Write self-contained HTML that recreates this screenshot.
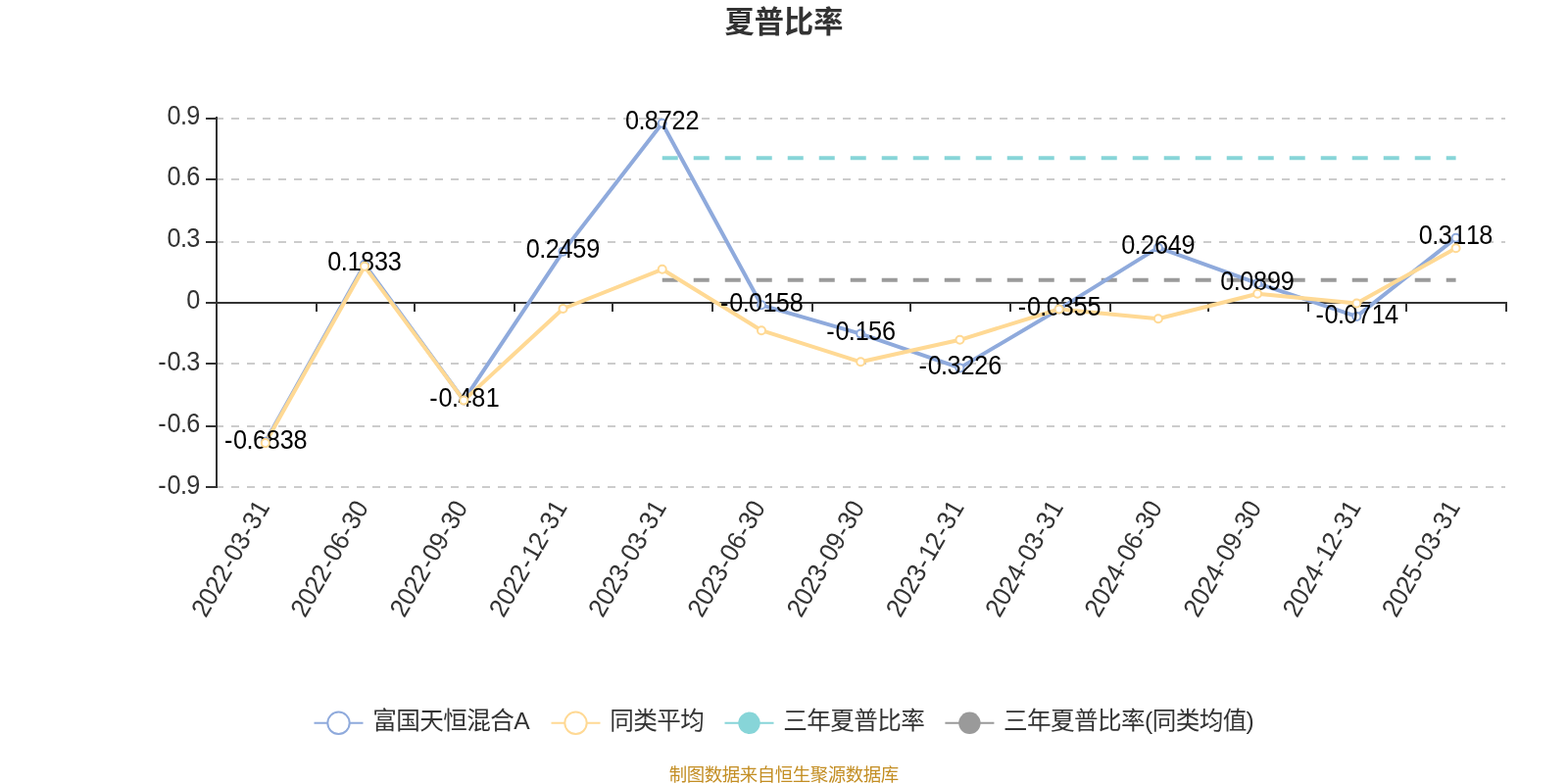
<!DOCTYPE html>
<html lang="zh-CN"><head><meta charset="utf-8"><title>夏普比率</title>
<style>
html,body{margin:0;padding:0;background:#fff;}
body{width:1600px;height:800px;overflow:hidden;}
svg{display:block;}
text{font-family:"Liberation Sans", "Noto Sans CJK SC", sans-serif;}
.ax{font-size:26.7px;fill:#333;}
.lb{font-size:26.7px;fill:#000;}
.lg{font-size:24.6px;letter-spacing:-0.6px;fill:#333;}
</style></head><body>
<svg width="1600" height="800" viewBox="0 0 1600 800">
<rect width="1600" height="800" fill="#fff"/>
<text x="800" y="33.3" text-anchor="middle" font-size="30.2" font-weight="bold" fill="#333">夏普比率</text>
<g stroke="#ccc" stroke-width="2" stroke-dasharray="8 8" fill="none">
<line x1="220" y1="121" x2="1536" y2="121"/>
<line x1="220" y1="183" x2="1536" y2="183"/>
<line x1="220" y1="247" x2="1536" y2="247"/>
<line x1="220" y1="371" x2="1536" y2="371"/>
<line x1="220" y1="435" x2="1536" y2="435"/>
<line x1="220" y1="497" x2="1536" y2="497"/>
</g>
<g stroke="#333" stroke-width="2" fill="none">
<line x1="221" y1="119" x2="221" y2="498"/>
<line x1="210" y1="121" x2="220" y2="121"/>
<line x1="210" y1="183" x2="220" y2="183"/>
<line x1="210" y1="247" x2="220" y2="247"/>
<line x1="210" y1="309" x2="220" y2="309"/>
<line x1="210" y1="371" x2="220" y2="371"/>
<line x1="210" y1="435" x2="220" y2="435"/>
<line x1="210" y1="497" x2="220" y2="497"/>
<line x1="220" y1="309" x2="1538" y2="309"/>
<line x1="323" y1="308" x2="323" y2="318"/>
<line x1="423" y1="308" x2="423" y2="318"/>
<line x1="525" y1="308" x2="525" y2="318"/>
<line x1="625" y1="308" x2="625" y2="318"/>
<line x1="727" y1="308" x2="727" y2="318"/>
<line x1="829" y1="308" x2="829" y2="318"/>
<line x1="929" y1="308" x2="929" y2="318"/>
<line x1="1031" y1="308" x2="1031" y2="318"/>
<line x1="1133" y1="308" x2="1133" y2="318"/>
<line x1="1233" y1="308" x2="1233" y2="318"/>
<line x1="1335" y1="308" x2="1335" y2="318"/>
<line x1="1435" y1="308" x2="1435" y2="318"/>
<line x1="1537" y1="308" x2="1537" y2="318"/>
</g>
<g class="ax">
<text transform="translate(204.30 126.50) scale(0.945 1)" x="-35.79 -21.56 -14.76" y="0">0.9</text>
<text transform="translate(204.30 189.33) scale(0.945 1)" x="-35.79 -21.56 -14.76" y="0">0.6</text>
<text transform="translate(204.30 252.17) scale(0.945 1)" x="-35.79 -21.56 -14.76" y="0">0.3</text>
<text transform="translate(204.30 315.00) scale(0.945 1)" x="-14.76" y="0">0</text>
<text transform="translate(204.30 377.83) scale(0.945 1)" x="-45.44 -35.79 -21.56 -14.76" y="0">-0.3</text>
<text transform="translate(204.30 440.67) scale(0.945 1)" x="-45.44 -35.79 -21.56 -14.76" y="0">-0.6</text>
<text transform="translate(204.30 503.50) scale(0.945 1)" x="-45.44 -35.79 -21.56 -14.76" y="0">-0.9</text>
</g>
<g class="ax">
<text transform="translate(275.58 517.75) rotate(-60) scale(0.945 1)" x="-138.67 -123.99 -109.31 -94.64 -79.03 -69.38 -54.70 -39.09 -29.44 -14.13" y="0">2022-03-31</text>
<text transform="translate(376.81 517.75) rotate(-60) scale(0.945 1)" x="-138.67 -123.99 -109.31 -94.64 -79.03 -69.38 -54.70 -39.09 -29.44 -14.76" y="0">2022-06-30</text>
<text transform="translate(478.04 517.75) rotate(-60) scale(0.945 1)" x="-138.67 -123.99 -109.31 -94.64 -79.03 -69.38 -54.70 -39.09 -29.44 -14.76" y="0">2022-09-30</text>
<text transform="translate(579.27 517.75) rotate(-60) scale(0.945 1)" x="-138.67 -123.99 -109.31 -94.64 -79.03 -68.74 -54.70 -39.09 -29.44 -14.13" y="0">2022-12-31</text>
<text transform="translate(680.50 517.75) rotate(-60) scale(0.945 1)" x="-138.67 -123.99 -109.31 -94.64 -79.03 -69.38 -54.70 -39.09 -29.44 -14.13" y="0">2023-03-31</text>
<text transform="translate(781.73 517.75) rotate(-60) scale(0.945 1)" x="-138.67 -123.99 -109.31 -94.64 -79.03 -69.38 -54.70 -39.09 -29.44 -14.76" y="0">2023-06-30</text>
<text transform="translate(882.96 517.75) rotate(-60) scale(0.945 1)" x="-138.67 -123.99 -109.31 -94.64 -79.03 -69.38 -54.70 -39.09 -29.44 -14.76" y="0">2023-09-30</text>
<text transform="translate(984.19 517.75) rotate(-60) scale(0.945 1)" x="-138.67 -123.99 -109.31 -94.64 -79.03 -68.74 -54.70 -39.09 -29.44 -14.13" y="0">2023-12-31</text>
<text transform="translate(1085.42 517.75) rotate(-60) scale(0.945 1)" x="-138.67 -123.99 -109.31 -94.64 -79.03 -69.38 -54.70 -39.09 -29.44 -14.13" y="0">2024-03-31</text>
<text transform="translate(1186.65 517.75) rotate(-60) scale(0.945 1)" x="-138.67 -123.99 -109.31 -94.64 -79.03 -69.38 -54.70 -39.09 -29.44 -14.76" y="0">2024-06-30</text>
<text transform="translate(1287.89 517.75) rotate(-60) scale(0.945 1)" x="-138.67 -123.99 -109.31 -94.64 -79.03 -69.38 -54.70 -39.09 -29.44 -14.76" y="0">2024-09-30</text>
<text transform="translate(1389.12 517.75) rotate(-60) scale(0.945 1)" x="-138.67 -123.99 -109.31 -94.64 -79.03 -68.74 -54.70 -39.09 -29.44 -14.13" y="0">2024-12-31</text>
<text transform="translate(1490.35 517.75) rotate(-60) scale(0.945 1)" x="-138.67 -123.99 -109.31 -94.64 -79.03 -69.38 -54.70 -39.09 -29.44 -14.13" y="0">2025-03-31</text>
</g>
<line x1="675.74" y1="285.7" x2="1485.58" y2="285.7" stroke="#9a9a9a" stroke-width="4" stroke-dasharray="16 16"/>
<line x1="675.74" y1="161.3" x2="1485.58" y2="161.3" stroke="#87d5d8" stroke-width="4" stroke-dasharray="16 16"/>
<polyline points="270.82,450.84 372.05,269.71 473.28,408.48 574.51,256.63 675.74,125.81 776.97,311.30 878.20,340.59 979.43,375.39 1080.66,315.42 1181.89,252.67 1283.12,289.22 1384.35,322.91 1485.58,242.87" fill="none" stroke="#8faadc" stroke-width="4" stroke-linejoin="bevel"/>
<polyline points="270.82,452.10 372.05,271.85 473.28,408.60 574.51,315.00 675.74,274.80 776.97,337.20 878.20,369.30 979.43,346.80 1080.66,315.50 1181.89,325.20 1283.12,299.80 1384.35,309.50 1485.58,253.30" fill="none" stroke="#ffd994" stroke-width="4" stroke-linejoin="bevel"/>
<g fill="#fff" stroke="#8faadc" stroke-width="2"><circle cx="270.82" cy="450.84" r="4"/><circle cx="372.05" cy="269.71" r="4"/><circle cx="473.28" cy="408.48" r="4"/><circle cx="574.51" cy="256.63" r="4"/><circle cx="675.74" cy="125.81" r="4"/><circle cx="776.97" cy="311.30" r="4"/><circle cx="878.20" cy="340.59" r="4"/><circle cx="979.43" cy="375.39" r="4"/><circle cx="1080.66" cy="315.42" r="4"/><circle cx="1181.89" cy="252.67" r="4"/><circle cx="1283.12" cy="289.22" r="4"/><circle cx="1384.35" cy="322.91" r="4"/><circle cx="1485.58" cy="242.87" r="4"/></g>
<g class="lb">
<text transform="translate(270.82 457.93) scale(0.945 1)" x="-44.31 -34.66 -20.43 -13.64 1.04 15.72 30.40" y="0">-0.6838</text>
<text transform="translate(372.05 276.37) scale(0.945 1)" x="-39.95 -25.72 -18.29 -4.25 10.43 25.11" y="0">0.1833</text>
<text transform="translate(473.28 415.47) scale(0.945 1)" x="-36.97 -27.32 -13.09 -6.30 8.38 23.69" y="0">-0.481</text>
<text transform="translate(574.51 263.26) scale(0.945 1)" x="-39.95 -25.72 -18.93 -4.25 10.43 25.11" y="0">0.2459</text>
<text transform="translate(675.74 132.12) scale(0.945 1)" x="-39.95 -25.72 -18.93 -4.25 10.43 25.11" y="0">0.8722</text>
<text transform="translate(776.97 318.06) scale(0.945 1)" x="-44.31 -34.66 -20.43 -13.64 1.68 15.72 30.40" y="0">-0.0158</text>
<text transform="translate(878.20 347.41) scale(0.945 1)" x="-36.97 -27.32 -13.09 -5.66 8.38 23.06" y="0">-0.156</text>
<text transform="translate(979.43 382.30) scale(0.945 1)" x="-44.31 -34.66 -20.43 -13.64 1.04 15.72 30.40" y="0">-0.3226</text>
<text transform="translate(1080.66 322.18) scale(0.945 1)" x="-44.31 -34.66 -20.43 -13.64 1.04 15.72 30.40" y="0">-0.0355</text>
<text transform="translate(1181.89 259.28) scale(0.945 1)" x="-39.95 -25.72 -18.93 -4.25 10.43 25.11" y="0">0.2649</text>
<text transform="translate(1283.12 295.93) scale(0.945 1)" x="-39.95 -25.72 -18.93 -4.25 10.43 25.11" y="0">0.0899</text>
<text transform="translate(1384.35 329.70) scale(0.945 1)" x="-44.31 -34.66 -20.43 -13.64 1.04 16.35 30.40" y="0">-0.0714</text>
<text transform="translate(1485.58 249.46) scale(0.945 1)" x="-39.95 -25.72 -18.93 -3.61 11.06 25.11" y="0">0.3118</text>
</g>
<g fill="#fff" stroke="#ffd994" stroke-width="2"><circle cx="270.82" cy="452.10" r="4"/><circle cx="372.05" cy="271.85" r="4"/><circle cx="473.28" cy="408.60" r="4"/><circle cx="574.51" cy="315.00" r="4"/><circle cx="675.74" cy="274.80" r="4"/><circle cx="776.97" cy="337.20" r="4"/><circle cx="878.20" cy="369.30" r="4"/><circle cx="979.43" cy="346.80" r="4"/><circle cx="1080.66" cy="315.50" r="4"/><circle cx="1181.89" cy="325.20" r="4"/><circle cx="1283.12" cy="299.80" r="4"/><circle cx="1384.35" cy="309.50" r="4"/><circle cx="1485.58" cy="253.30" r="4"/></g>
<line x1="320.5" y1="737.8" x2="370.5" y2="737.8" stroke="#8faadc" stroke-width="2"/>
<circle cx="345.5" cy="737.8" r="11.2" fill="#fff" stroke="#8faadc" stroke-width="2"/>
<text class="lg" x="380.2" y="744.3">富国天恒混合A</text>
<line x1="562.5" y1="737.8" x2="612.5" y2="737.8" stroke="#ffd994" stroke-width="2"/>
<circle cx="587.5" cy="737.8" r="11.2" fill="#fff" stroke="#ffd994" stroke-width="2"/>
<text class="lg" x="622.2" y="744.3">同类平均</text>
<line x1="739.5" y1="737.8" x2="789.5" y2="737.8" stroke="#87d5d8" stroke-width="2"/>
<circle cx="764.5" cy="737.8" r="11.2" fill="#87d5d8"/>
<text class="lg" x="799.2" y="744.3">三年夏普比率</text>
<line x1="964.4" y1="737.8" x2="1014.4" y2="737.8" stroke="#9a9a9a" stroke-width="2"/>
<circle cx="989.4" cy="737.8" r="11.2" fill="#9a9a9a"/>
<text class="lg" x="1024.1" y="744.3">三年夏普比率(同类均值)</text>
<text x="799.775" y="796.9" text-anchor="middle" font-size="18.45" letter-spacing="-0.45" fill="#c38e24">制图数据来自恒生聚源数据库</text>
</svg>
</body></html>
